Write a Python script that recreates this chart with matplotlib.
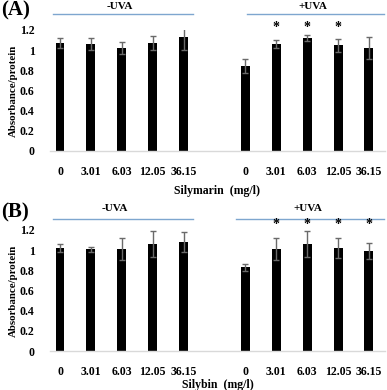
import matplotlib
matplotlib.use("Agg")
import matplotlib.pyplot as plt
import numpy as np

plt.rcParams['font.family'] = ['Liberation Serif', 'DejaVu Serif']
plt.rcParams['font.weight'] = 'bold'

doses = ["0", "3.01", "6.03", "12.05", "36.15"]

# Panel A: Silymarin
silymarin_minus_uva = [1.07, 1.06, 1.02, 1.07, 1.13]
silymarin_minus_err = [0.05, 0.06, 0.06, 0.07, 0.13]
silymarin_plus_uva = [0.84, 1.06, 1.12, 1.05, 1.02]
silymarin_plus_err = [0.07, 0.04, 0.03, 0.065, 0.11]
silymarin_sig = [False, True, True, True, False]

# Panel B: Silybin
silybin_minus_uva = [1.02, 1.01, 1.01, 1.065, 1.08]
silybin_minus_err = [0.04, 0.025, 0.11, 0.13, 0.10]
silybin_plus_uva = [0.83, 1.01, 1.06, 1.02, 0.99]
silybin_plus_err = [0.035, 0.11, 0.13, 0.10, 0.078]
silybin_sig = [False, True, True, True, True]

panels = [
    dict(tag="(A)", xlabel="Silymarin  (mg/l)", minus=silymarin_minus_uva, minus_err=silymarin_minus_err,
         plus=silymarin_plus_uva, plus_err=silymarin_plus_err, sig=silymarin_sig,
         rect=[50/387, 1-151/390, 335/387, 121/390], star_y=1.22, line_y=1.36, text_y=1.43,
         minus_line=(-0.23, 4.3), plus_line=(6.05, 10.5), minus_tx=1.94, plus_tx=8.19,
         xlabel_y=-0.28),
    dict(tag="(B)", xlabel="Silybin  (mg/l)", minus=silybin_minus_uva, minus_err=silybin_minus_err,
         plus=silybin_plus_uva, plus_err=silybin_plus_err, sig=silybin_sig,
         rect=[50/387, 1-351/390, 335/387, 121/390], star_y=1.25, line_y=1.31, text_y=1.41,
         minus_line=(-0.23, 4.3), plus_line=(5.69, 10.5), minus_tx=1.77, plus_tx=8.03,
         xlabel_y=-0.235),
]

fig = plt.figure(figsize=(3.87, 3.90), dpi=100)
line_color = '#7ea6cf'

for p in panels:
    ax = fig.add_axes(p["rect"])
    x_minus = np.arange(5)
    x_plus = np.arange(6, 11)
    ax.bar(x_minus, p["minus"], width=0.29, color='black', zorder=2)
    ax.bar(x_plus, p["plus"], width=0.29, color='black', zorder=2)
    ax.errorbar(x_minus, p["minus"], yerr=p["minus_err"], fmt='none', ecolor='#6a6a6a',
                elinewidth=1, capsize=2.2, capthick=1, zorder=3)
    ax.errorbar(x_plus, p["plus"], yerr=p["plus_err"], fmt='none', ecolor='#6a6a6a',
                elinewidth=1, capsize=2.2, capthick=1, zorder=3)
    for xi, s in zip(x_plus, p["sig"]):
        if s:
            ax.text(xi, p["star_y"], "*", ha='center', va='center', fontsize=10, clip_on=False)
    ax.set_xlim(-0.324, 10.52)
    ax.set_ylim(0, 1.2)
    ax.set_yticks(np.arange(0, 1.21, 0.2))
    ax.set_yticklabels(["0", "0.2", "0.4", "0.6", "0.8", "1", "1.2"])
    ax.set_xticks(np.arange(11))
    ax.set_xticklabels(doses + [""] + doses)
    ax.tick_params(axis='both', length=0, labelsize=8.5)
    ax.tick_params(axis='y', pad=11)
    ax.tick_params(axis='x', pad=11)
    for lab in ax.get_xticklabels() + ax.get_yticklabels():
        lab.set_fontweight('bold')
    for sp in ['top', 'right', 'left']:
        ax.spines[sp].set_visible(False)
    ax.spines['bottom'].set_color('#d9d9d9')
    ax.spines['bottom'].set_linewidth(1)
    ax.set_ylabel("Absorbance/protein", fontsize=7.8, fontweight='bold')
    ax.yaxis.set_label_coords(-0.095, 0.5)
    ax.set_xlabel(p["xlabel"], fontsize=8.5, fontweight='bold')
    ax.xaxis.set_label_coords(0.5, p["xlabel_y"])
    ax.plot(p["minus_line"], [p["line_y"]] * 2, color=line_color, lw=1, clip_on=False)
    ax.plot(p["plus_line"], [p["line_y"]] * 2, color=line_color, lw=1, clip_on=False)
    ax.text(p["minus_tx"], p["text_y"], "-UVA", ha='center', va='center', fontsize=8, clip_on=False)
    ax.text(p["plus_tx"], p["text_y"], "+UVA", ha='center', va='center', fontsize=8, clip_on=False)
    ax.text(-0.145, p["text_y"] - 0.04, p["tag"], transform=ax.get_yaxis_transform(),
            ha='left', va='center', fontsize=15, fontweight='bold')

fig.savefig("out.png", dpi=100)
